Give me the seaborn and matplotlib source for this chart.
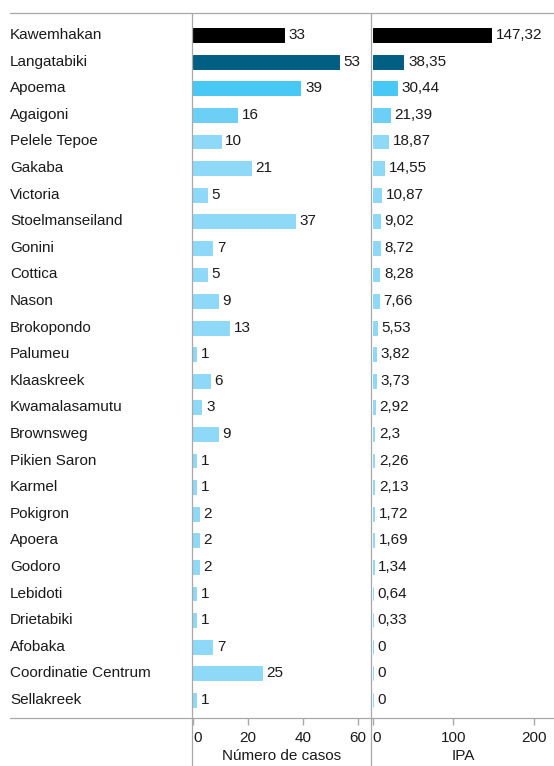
import matplotlib
matplotlib.use("Agg")
import matplotlib.pyplot as plt
import matplotlib.transforms as mtransforms
from matplotlib.lines import Line2D
import seaborn as sns

sns.set_theme(style="white")
plt.rcParams['font.family'] = ['Liberation Sans', 'DejaVu Sans']

## Data ##

localidades = ["Kawemhakan", "Langatabiki", "Apoema", "Agaigoni", "Pelele Tepoe",
               "Gakaba", "Victoria", "Stoelmanseiland", "Gonini", "Cottica",
               "Nason", "Brokopondo", "Palumeu", "Klaaskreek", "Kwamalasamutu",
               "Brownsweg", "Pikien Saron", "Karmel", "Pokigron", "Apoera",
               "Godoro", "Lebidoti", "Drietabiki", "Afobaka", "Coordinatie Centrum",
               "Sellakreek"]
casos = [33, 53, 39, 16, 10, 21, 5, 37, 7, 5, 9, 13, 1, 6, 3, 9, 1, 1, 2, 2, 2,
         1, 1, 7, 25, 1]
ipa = [147.32, 38.35, 30.44, 21.39, 18.87, 14.55, 10.87, 9.02, 8.72, 8.28, 7.66,
       5.53, 3.82, 3.73, 2.92, 2.3, 2.26, 2.13, 1.72, 1.69, 1.34, 0.64, 0.33,
       0, 0, 0]

casos_ticks = [0, 20, 40, 60]
ipa_ticks = [0, 100, 200]

## Colours ##

colores = ["#000000", "#005F83", "#47C8F5", "#6CCFF6"] + ["#8ED8F8"] * (len(localidades) - 4)
palette = dict(zip(localidades, colores))

line_col = "#a8a8a8"
text_col = "#1a1a1a"
fs = 11

W, H = 554, 766
fig = plt.figure(figsize=(W / 100, H / 100), dpi=100)

def px_axes(x0, x1, y0, y1):
    return fig.add_axes([x0 / W, 1 - y1 / H, (x1 - x0) / W, (y1 - y0) / H])

top, bottom = 13, 718
ax1 = px_axes(193, 371, top, bottom)
ax2 = px_axes(372.5, 554, top, bottom)

n = len(localidades)
pad_top, pad_bot = 0.83, 0.68

def draw_panel(ax, values, xmax, ticks, xlabel, fmt):
    sns.barplot(x=values, y=localidades, hue=localidades, palette=palette,
                legend=False, ax=ax, width=0.52, orient="h", saturation=1)
    for p in ax.patches:
        p.set_edgecolor(p.get_facecolor())
        p.set_linewidth(0.7)
    ax.set_xlim(0, xmax)
    ax.set_ylim(n - 1 + pad_bot, -pad_top)
    for s in ax.spines.values():
        s.set_visible(False)
    ax.set_yticks([])
    ax.set_ylabel("")
    ax.set_xticks(ticks)
    ax.set_xticklabels([str(t) for t in ticks], fontsize=fs, color=text_col)
    first = ax.get_xticklabels()[0]
    first.set_horizontalalignment("left")
    first.set_transform(first.get_transform() +
                        mtransforms.ScaledTranslation(2.5 / 72, 0, fig.dpi_scale_trans))
    ax.tick_params(axis="x", bottom=True, length=5, width=1, color=line_col,
                   pad=4)
    ax.set_xlabel(xlabel, fontsize=fs, color=text_col, labelpad=3)
    for i, v in enumerate(values):
        ax.annotate(fmt(v), (v, i), xytext=(3.4, 0), textcoords="offset points",
                    va="center", ha="left", fontsize=fs, color=text_col)

draw_panel(ax1, casos, 64.7, casos_ticks, "Número de casos", lambda v: str(v))
draw_panel(ax2, ipa, 225, ipa_ticks, "IPA", lambda v: f"{v:g}".replace(".", ","))

# category labels
row_px = (bottom - top) / (n - 1 + pad_bot + pad_top)
for i, name in enumerate(localidades):
    y = top + (pad_top + i) * row_px
    fig.text(10 / W, 1 - y / H, name, ha="left", va="center", fontsize=fs,
             color=text_col)

# frame lines
for (x0, y0, x1, y1) in [(10, top, W, top), (10, bottom, W, bottom),
                         (192, top, 192, H), (371, top, 371, H)]:
    fig.add_artist(Line2D([x0 / W, x1 / W], [1 - y0 / H, 1 - y1 / H],
                          transform=fig.transFigure, color=line_col, lw=0.9))

plt.savefig("out.png", dpi=100)
